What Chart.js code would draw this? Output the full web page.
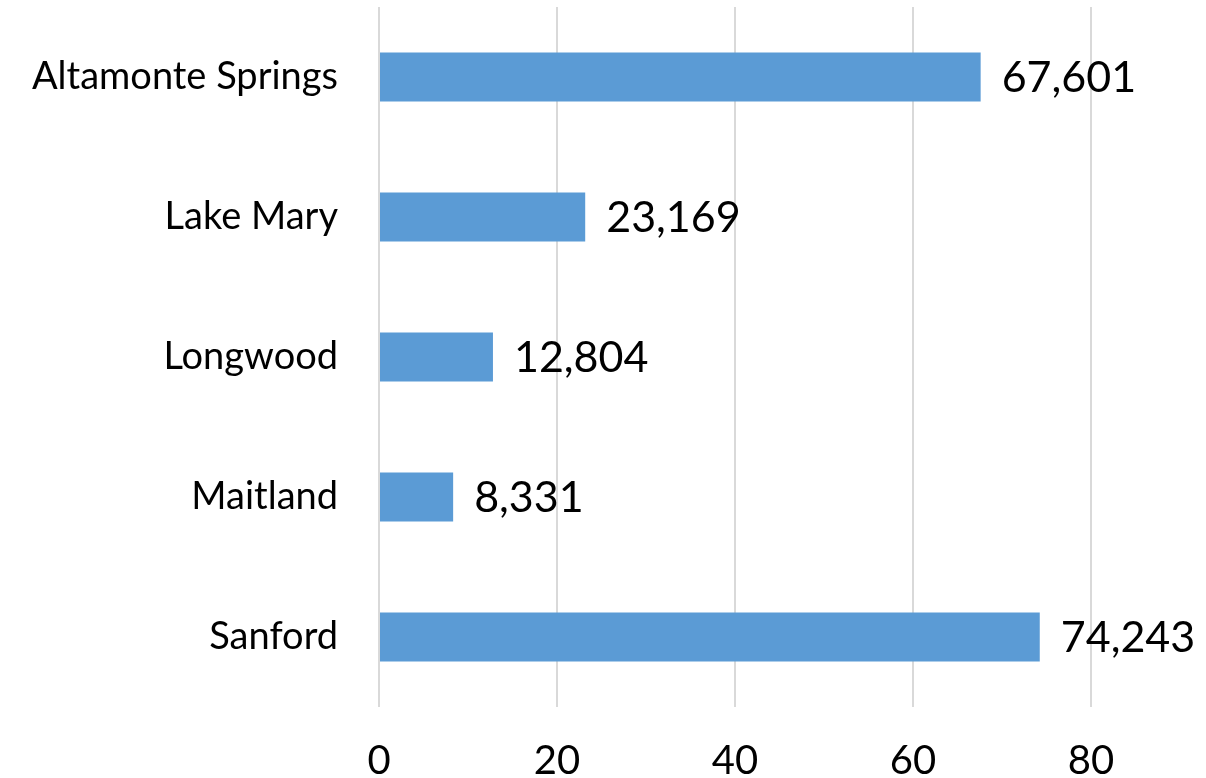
<!DOCTYPE html>
<html>
<head>
<meta charset="utf-8">
<script src="https://cdn.jsdelivr.net/npm/chart.js@4/dist/chart.umd.min.js"></script>
<style>
  html, body { margin: 0; padding: 0; background: #fff; overflow: hidden; }
  #wrap { width: 1206px; height: 778px; overflow: hidden; }
  #wrap div { width: 1206px; height: 800px; position: relative; }
</style>
</head>
<body>
<div id="wrap"><div><canvas id="popChart"></canvas></div></div>
<script>
const cities = ["Altamonte Springs", "Lake Mary", "Longwood", "Maitland", "Sanford"];
const population = [67601, 23169, 12804, 8331, 74243];
const tickValues = [0, 20000, 40000, 60000, 80000];
const axisMax = 90000;

const FONT = "Lato, 'Open Sans', sans-serif";

/* value labels at the end of each bar */
const barLabels = {
  id: "barLabels",
  afterDatasetsDraw(chart) {
    const c = chart.ctx;
    const meta = chart.getDatasetMeta(0);
    c.save();
    c.font = "43px " + FONT;
    c.fillStyle = "#000";
    c.textBaseline = "middle";
    c.textAlign = "left";
    meta.data.forEach((bar, i) => {
      c.fillText(population[i].toLocaleString("en-US"), bar.x + 21, bar.y + 1);
    });
    c.restore();
  }
};

const ctx = document.getElementById("popChart").getContext("2d");

new Chart(ctx, {
  type: "bar",
  data: {
    labels: cities,
    datasets: [{
      data: population,
      backgroundColor: "#5b9bd5",
      categoryPercentage: 0.7,
      barPercentage: 0.5
    }]
  },
  options: {
    indexAxis: "y",
    responsive: true,
    maintainAspectRatio: false,
    animation: false,
    layout: { padding: { top: 7, right: 26, bottom: 0, left: 0 } },
    plugins: {
      legend: { display: false },
      tooltip: { enabled: false }
    },
    scales: {
      x: {
        min: 0,
        max: axisMax,
        ticks: {
          padding: 30,
          maxRotation: 0,
          minRotation: 0,
          autoSkip: false,
          color: "#000",
          font: { family: FONT, size: 40 },
          callback: v => v / 1000
        },
        afterBuildTicks: s => { s.ticks = tickValues.map(v => ({ value: v })); },
        afterFit: s => { s.height = 800 - 707; s.paddingLeft = 0; s.paddingRight = 0; },
        grid: { color: "#d9d9d9", lineWidth: 2, drawTicks: false },
        border: { display: false }
      },
      y: {
        ticks: {
          padding: 41,
          color: "#000",
          font: { family: FONT, size: 38 }
        },
        afterFit: s => { s.width = 379; s.paddingTop = 0; s.paddingBottom = 0; },
        grid: { display: false, drawTicks: false },
        border: { display: false }
      }
    }
  },
  plugins: [barLabels]
});
</script>
</body>
</html>
